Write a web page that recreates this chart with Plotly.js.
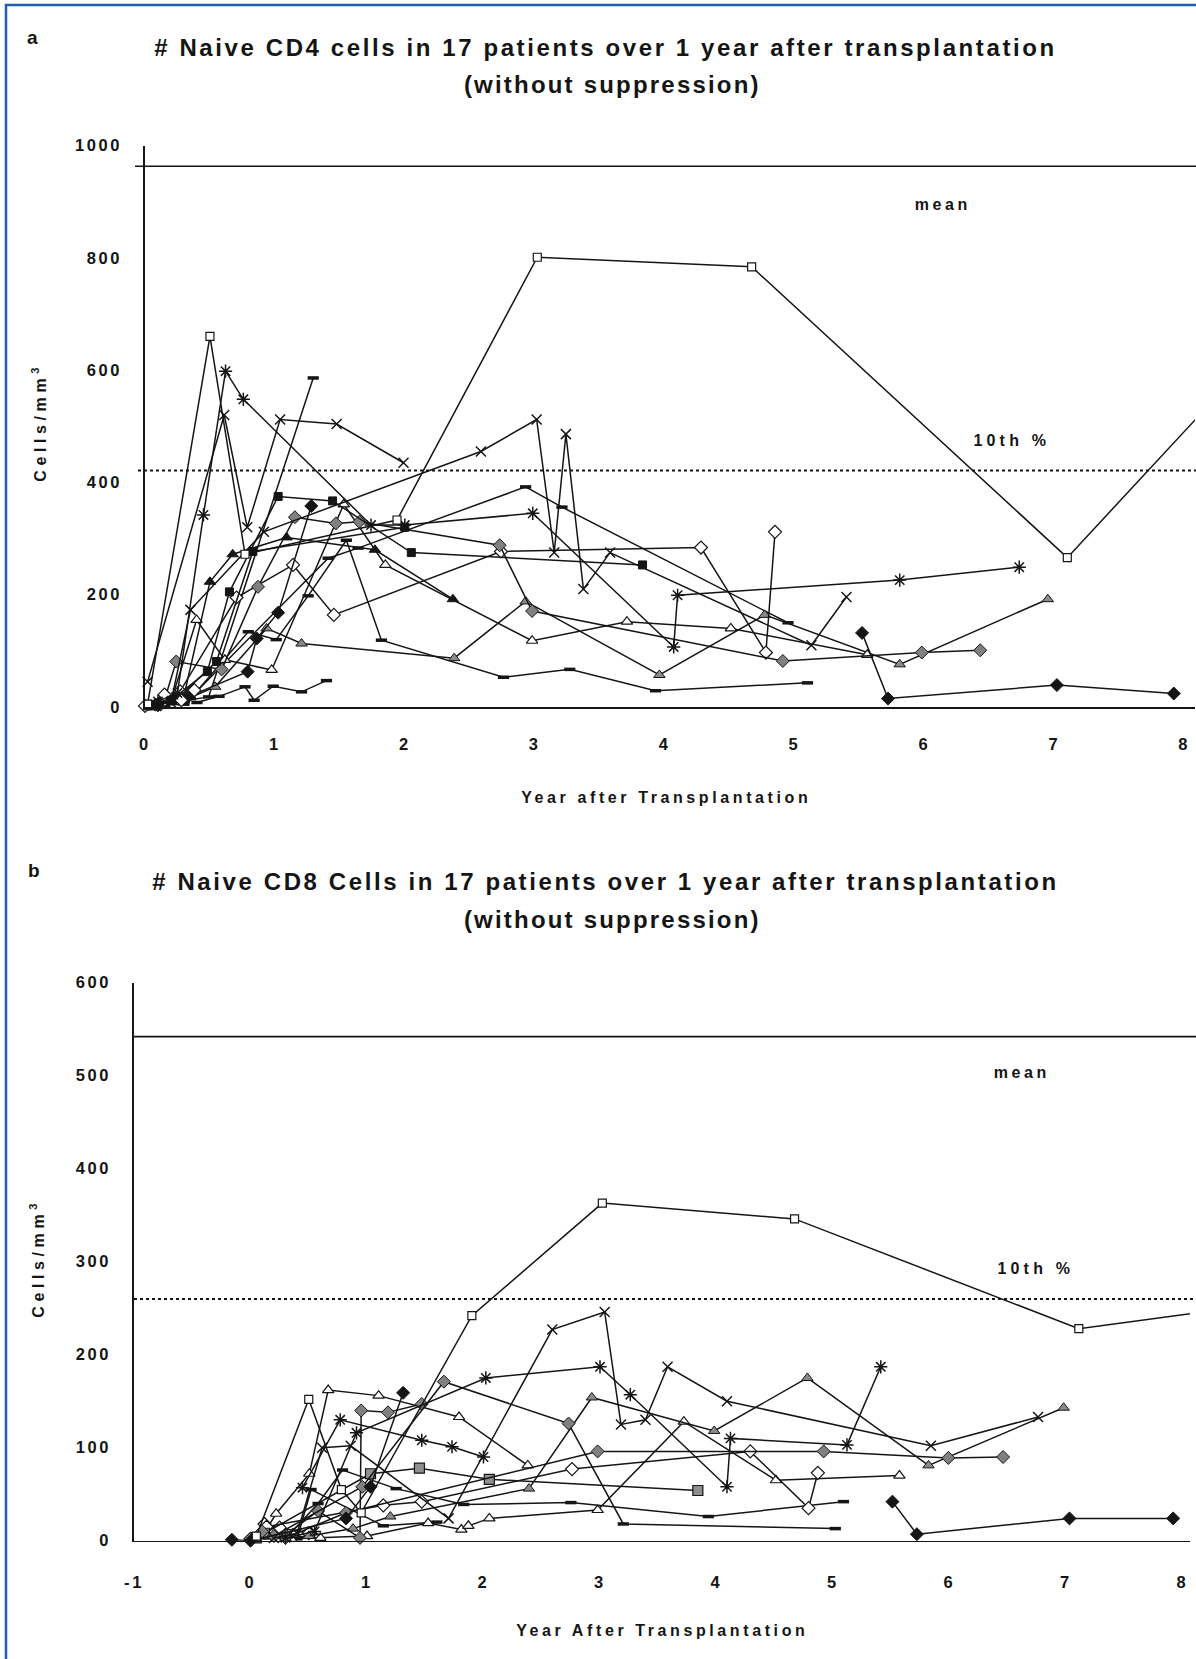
<!DOCTYPE html>
<html>
<head>
<meta charset="utf-8">
<script src="https://cdn.plot.ly/plotly-3.0.1.min.js"></script>
<style>
  html, body { margin: 0; padding: 0; background: #ffffff; }
  #chart { width: 1196px; height: 1659px; }
</style>
</head>
<body>
<div id="chart"></div>
<script>
// ---------------- TEXT / TICKS ----------------
const aTitle = "# Naive CD4 cells in 17 patients over 1 year after transplantation";
const bTitle = "# Naive CD8 Cells in 17 patients over 1 year after transplantation";
const subTitle = "(without suppression)";
const aXTitle = "Year after Transplantation";
const bXTitle = "Year After Transplantation";
const yTitle = "Cells/mm<sup>3</sup>";
const aXTicks = [0, 1, 2, 3, 4, 5, 6, 7, 8];
const aYTicks = [0, 200, 400, 600, 800, 1000];
const bXTicks = [-1, 0, 1, 2, 3, 4, 5, 6, 7, 8];
const bYTicks = [0, 100, 200, 300, 400, 500, 600];
const aMean = 963, aTenth = 421;
const bMean = 542, bTenth = 260;

// ---------------- DATA: panel a (naive CD4, cells/mm3) ----------------
const a1x = [0.02, 0.5, 0.77, 1.94, 3.02, 4.67, 7.10, 8.60];
const a1y = [5, 660, 272, 333, 801, 784, 266, 640];
const a2x = [0.10, 0.25, 0.45, 0.62, 0.757, 1.74, 2.0, 2.985, 4.07, 4.10, 5.81, 6.73];
const a2y = [10, 25, 342, 598, 548, 324, 324, 345, 107, 199, 226, 249];
const a3x = [0.02, 0.61, 0.787, 1.04, 1.475, 1.99];
const a3y = [45, 520, 320, 512, 504, 435];
const a4x = [0.20, 0.35, 0.915, 2.586, 3.015, 3.15, 3.24, 3.375, 3.58, 5.13, 5.40];
const a4y = [8, 173, 312, 455, 512, 275, 486, 210, 275, 110, 196];
const a5x = [0.02, 0.20, 0.48, 0.65, 1.025, 1.444, 2.05, 3.83];
const a5y = [2, 12, 63, 205, 375, 367, 275, 253];
const a6x = [0.10, 0.33, 0.79, 0.86, 1.025, 1.28, null, 5.52, 5.72, 7.02, 7.92];
const a6y = [3, 18, 63, 122, 168, 358, null, 132, 15, 39, 24];
const a7x = [0.08, 0.16, 0.24, 0.59, 0.87, 1.154, 1.47, 1.65, 2.73, 2.98, 4.91, 5.98, 6.43];
const a7y = [4, 20, 81, 67, 214, 338, 327, 330, 288, 171, 82, 97, 101];
const a8x = [0.12, 0.27, 0.705, 1.14, 1.454, 2.74, 4.28, 4.78, 4.85];
const a8y = [5, 28, 195, 253, 164, 277, 284, 97, 312];
const a9x = [0.15, 0.30, 0.50, 0.675, 1.09, 1.77, 2.37];
const a9y = [5, 20, 223, 272, 302, 280, 192];
const a10x = [0.05, 0.20, 0.397, 0.615, 0.975, 1.53, 1.85, 2.98, 3.71, 4.51, 5.56];
const a10y = [3, 10, 155, 84, 66, 361, 253, 118, 152, 140, 93];
const a11x = [0.10, 0.30, 0.54, 0.936, 1.205, 2.38, 2.93, 3.96, 4.77, 5.81, 6.95];
const a11y = [3, 12, 36, 140, 113, 87, 188, 57, 164, 76, 192];
const a12x = [0.05, 0.49, 1.295];
const a12y = [2, 18, 586];
const a13x = [0.10, 0.35, 0.795, 1.01, 1.256, 1.55, 1.82, 2.76, 3.27, 3.93, 5.10];
const a13y = [3, 15, 134, 120, 198, 297, 119, 53, 67, 29, 43];
const a14x = [0.12, 0.30, 1.41, 1.64, 2.93, 3.21, 4.95];
const a14y = [3, 5, 265, 283, 392, 356, 150];
const a15x = [0.40, 0.57, 0.77, 0.84, 0.987, 1.205, 1.397];
const a15y = [8, 19, 36, 12, 37, 27, 47];
const a16x = [0.05, 0.25, 0.55, 0.83, 2.0];
const a16y = [2, 15, 81, 277, 320];
const a17x = [0.0, 0.15, 0.28, 0.38];
const a17y = [2, 22, 12, 30];

// ---------------- DATA: panel b (naive CD8, cells/mm3) ----------------
const b1x = [0.05, 0.50, 0.78, 0.95, 1.90, 3.02, 4.67, 7.11, 8.60];
const b1y = [5, 152, 55, 30, 242, 363, 346, 228, 253];
const b2x = [0.10, 0.22, 0.505, 0.667, 1.10, 1.79, 2.38];
const b2y = [5, 29, 72, 162, 156, 133, 81];
const b3x = [0.35, 0.60, 1.00, 1.525, 1.81, 1.87, 2.05, 2.98, 3.72, 4.51, 5.57];
const b3y = [2, 3, 5, 19, 12, 16, 24, 33, 128, 65, 70];
const b4x = [0.137, 1.14, 1.47, 2.76, 4.29, 4.79, 4.87];
const b4y = [15, 38, 42, 77, 96, 35, 73];
const b5x = [0.10, 0.30, 0.58, 0.94, 0.95, 1.18, 1.47];
const b5y = [10, 6, 32, 3, 140, 138, 147];
const b6x = [0.20, 0.96, 1.66, 2.73];
const b6y = [5, 58, 171, 126];
const b7x = [0.15, 0.30, 0.58, 0.79, 1.25, 1.83, 2.75, 3.93, 5.09];
const b7y = [3, 2, 40, 76, 56, 39, 41, 26, 42];
const b8x = [0.30, 0.82, 2.98, 4.92, 5.99, 6.46];
const b8y = [3, 30, 96, 96, 89, 90];
const b9x = [0.20, 0.40, 0.615, 0.86, 1.70, 2.59, 3.04, 3.18, 3.39, 3.58, 4.09, 5.84, 6.76];
const b9y = [3, 8, 100, 102, 24, 227, 246, 125, 130, 187, 150, 102, 133];
const b10x = [0.446, 0.77, 1.47, 1.73, 2.00];
const b10y = [57, 130, 108, 101, 90];
const b11x = [0.30, 0.55, 0.91, 2.02, 3.00, 3.26, 4.09, 4.12, 5.12, 5.41];
const b11y = [3, 10, 116, 175, 187, 157, 58, 110, 103, 187];
const b12x = [0.30, 0.50, 0.88, 1.20, 2.39, 2.93, 3.98, 4.78, 5.82, 6.98];
const b12y = [3, 5, 13, 26, 56, 154, 118, 175, 81, 143];
const b13x = [0.05, 0.12, 1.03, 1.45, 2.05, 3.84];
const b13y = [3, 8, 72, 78, 66, 54];
const b14x = [-0.16, 0.0, 0.82, 1.03, 1.31, null, 5.51, 5.72, 7.03, 7.92];
const b14y = [1, 0, 24, 58, 159, null, 42, 7, 24, 24];
const b15x = [0.40, 0.52, 1.14, 1.60];
const b15y = [2, 55, 16, 20];
const b16x = [0.0, 0.12, 0.25, 0.50];
const b16y = [2, 18, 14, 8];
const b17x = [2.73, 3.20, 5.02];
const b17y = [126, 18, 13];

// ---------------- STYLES ----------------
const INK = '#151515';
const MK = {
  openSquare:  {symbol: 'square', size: 8, color: '#ffffff', line: {color: INK, width: 1.2}},
  blackSquare: {symbol: 'square', size: 8, color: INK, line: {color: INK, width: 1}},
  greySquare:  {symbol: 'square', size: 10, color: '#8f8f8f', line: {color: INK, width: 1.2}},
  blackDiamond:{symbol: 'diamond', size: 10, color: INK, line: {color: INK, width: 1}},
  greyDiamond: {symbol: 'diamond', size: 10, color: '#808080', line: {color: INK, width: 1}},
  openDiamond: {symbol: 'diamond', size: 10, color: '#ffffff', line: {color: INK, width: 1.2}},
  blackTri:    {symbol: 'triangle-up', size: 10, color: INK, line: {color: INK, width: 1}},
  greyTri:     {symbol: 'triangle-up', size: 10, color: '#8a8a8a', line: {color: INK, width: 1}},
  openTri:     {symbol: 'triangle-up', size: 10, color: '#ffffff', line: {color: INK, width: 1.2}},
  cross:       {symbol: 'x-thin-open', size: 10, color: INK, line: {color: INK, width: 1.5}},
  aster:       {symbol: 'asterisk-open', size: 11, color: INK, line: {color: INK, width: 1.5}},
  dash:        {symbol: 'line-ew-open', size: 8, color: INK, line: {color: INK, width: 3.5}}
};

function tr(x, y, style, panel) {
  return {
    type: 'scatter', mode: 'lines+markers', x: x, y: y,
    xaxis: panel === 'b' ? 'x2' : 'x', yaxis: panel === 'b' ? 'y2' : 'y',
    line: {color: INK, width: 1.5}, marker: MK[style],
    connectgaps: false, cliponaxis: false, hoverinfo: 'skip'
  };
}

const data = [
  tr(a12x, a12y, 'dash', 'a'), tr(a13x, a13y, 'dash', 'a'), tr(a14x, a14y, 'dash', 'a'), tr(a15x, a15y, 'dash', 'a'),
  tr(a11x, a11y, 'greyTri', 'a'), tr(a10x, a10y, 'openTri', 'a'), tr(a9x, a9y, 'blackTri', 'a'),
  tr(a8x, a8y, 'openDiamond', 'a'), tr(a7x, a7y, 'greyDiamond', 'a'), tr(a6x, a6y, 'blackDiamond', 'a'),
  tr(a16x, a16y, 'blackSquare', 'a'), tr(a17x, a17y, 'openDiamond', 'a'),
  tr(a5x, a5y, 'blackSquare', 'a'), tr(a4x, a4y, 'cross', 'a'), tr(a3x, a3y, 'cross', 'a'),
  tr(a2x, a2y, 'aster', 'a'), tr(a1x, a1y, 'openSquare', 'a'),

  tr(b7x, b7y, 'dash', 'b'), tr(b15x, b15y, 'dash', 'b'), tr(b17x, b17y, 'dash', 'b'),
  tr(b16x, b16y, 'openDiamond', 'b'),
  tr(b3x, b3y, 'openTri', 'b'), tr(b2x, b2y, 'openTri', 'b'), tr(b4x, b4y, 'openDiamond', 'b'),
  tr(b12x, b12y, 'greyTri', 'b'), tr(b13x, b13y, 'greySquare', 'b'),
  tr(b5x, b5y, 'greyDiamond', 'b'), tr(b6x, b6y, 'greyDiamond', 'b'), tr(b8x, b8y, 'greyDiamond', 'b'),
  tr(b14x, b14y, 'blackDiamond', 'b'), tr(b9x, b9y, 'cross', 'b'), tr(b10x, b10y, 'aster', 'b'),
  tr(b11x, b11y, 'aster', 'b'), tr(b1x, b1y, 'openSquare', 'b')
];

// ---------------- LAYOUT ----------------
const W = 1196, H = 1659;
const fx = p => p / W;
const fy = p => 1 - p / H;
const FONT = 'Liberation Sans, Arial, Helvetica, sans-serif';

function axisBase(extra) {
  return Object.assign({
    showgrid: false, zeroline: false, ticks: '', showline: true,
    linecolor: INK, linewidth: 1.6, fixedrange: true,
    tickfont: {family: FONT, size: 16.5, color: INK, weight: 'bold'}
  }, extra);
}

const annSpec = [
  {t: 'a', x: 32, y: 37, s: 19, ls: 0},
  {t: aTitle, x: 605, y: 48, s: 24, ls: 2.6},
  {t: subTitle, x: 612, y: 84, s: 24, ls: 2.2},
  {t: 'mean', x: 943, y: 204, s: 16, ls: 3.6},
  {t: '10th %', x: 1012, y: 440, s: 16, ls: 4.2},
  {t: aXTitle, x: 666, y: 797, s: 16, ls: 3.6},
  {t: yTitle, x: 39, y: 423, s: 16, ls: 4.6, rot: -90},
  {t: 'b', x: 34, y: 870, s: 19, ls: 0},
  {t: bTitle, x: 605, y: 881, s: 24, ls: 2.6},
  {t: subTitle, x: 612, y: 919, s: 24, ls: 2.2},
  {t: 'mean', x: 1022, y: 1072, s: 16, ls: 3.6},
  {t: '10th %', x: 1036, y: 1268, s: 16, ls: 4.2},
  {t: bXTitle, x: 662, y: 1630, s: 16, ls: 3.6},
  {t: yTitle, x: 37, y: 1259, s: 16, ls: 4.6, rot: -90}
];

const layout = {
  width: W, height: H,
  margin: {l: 0, r: 0, t: 0, b: 0, pad: 0},
  paper_bgcolor: '#ffffff', plot_bgcolor: 'rgba(0,0,0,0)',
  showlegend: false,
  font: {family: FONT, color: INK},
  xaxis: axisBase({domain: [fx(145), fx(1195)], range: [0, (1195 - 145) / 129.9],
    tickvals: aXTicks, ticktext: aXTicks.map(String), anchor: 'y', ticklabelstandoff: 22}),
  yaxis: axisBase({domain: [fy(707), fy(145.5)], range: [0, 1000],
    tickvals: aYTicks, ticktext: aYTicks.map(String), anchor: 'x', ticklabelstandoff: 18}),
  xaxis2: axisBase({domain: [fx(134), fx(1190)], range: [-1, -1 + (1190 - 134) / 116.5],
    tickvals: bXTicks, ticktext: bXTicks.map(String), anchor: 'y2', ticklabelstandoff: 26}),
  yaxis2: axisBase({domain: [fy(1540.7), fy(982.7)], range: [0, 600],
    tickvals: bYTicks, ticktext: bYTicks.map(String), anchor: 'x2', ticklabelstandoff: 18}),
  shapes: [
    {type: 'line', xref: 'paper', yref: 'y', x0: fx(135), x1: 1, y0: aMean, y1: aMean, line: {color: INK, width: 1.6}},
    {type: 'line', xref: 'paper', yref: 'y', x0: fx(138), x1: 1, y0: aTenth, y1: aTenth, line: {color: INK, width: 2, dash: 'dot'}},
    {type: 'line', xref: 'paper', yref: 'y2', x0: fx(134), x1: 1, y0: bMean, y1: bMean, line: {color: INK, width: 1.6}},
    {type: 'line', xref: 'paper', yref: 'y2', x0: fx(134), x1: 1, y0: bTenth, y1: bTenth, line: {color: INK, width: 2, dash: 'dot'}},
    {type: 'rect', xref: 'paper', yref: 'paper', x0: fx(6), x1: 1.05, y0: -0.05, y1: fy(5), line: {color: '#1f5fae', width: 2.5}, fillcolor: 'rgba(0,0,0,0)'}
  ],
  annotations: annSpec.map(a => ({
    text: a.t, xref: 'paper', yref: 'paper', x: fx(a.x), y: fy(a.y),
    xanchor: 'center', yanchor: 'middle', showarrow: false, textangle: a.rot || 0,
    font: {family: FONT, size: a.s, color: INK, weight: 'bold'}
  }))
};

Plotly.newPlot('chart', data, layout, {staticPlot: true, displayModeBar: false}).then(() => {
  annSpec.forEach((a, i) => {
    if (!a.ls) return;
    document.querySelectorAll('.annotation[data-index="' + i + '"] text').forEach(t => {
      t.style.letterSpacing = a.ls + 'px';
    });
  });
  document.querySelectorAll('g.xtick text, g.x2tick text, g.ytick text, g.y2tick text').forEach(t => {
    t.style.letterSpacing = '2.6px';
  });
});
</script>
</body>
</html>
